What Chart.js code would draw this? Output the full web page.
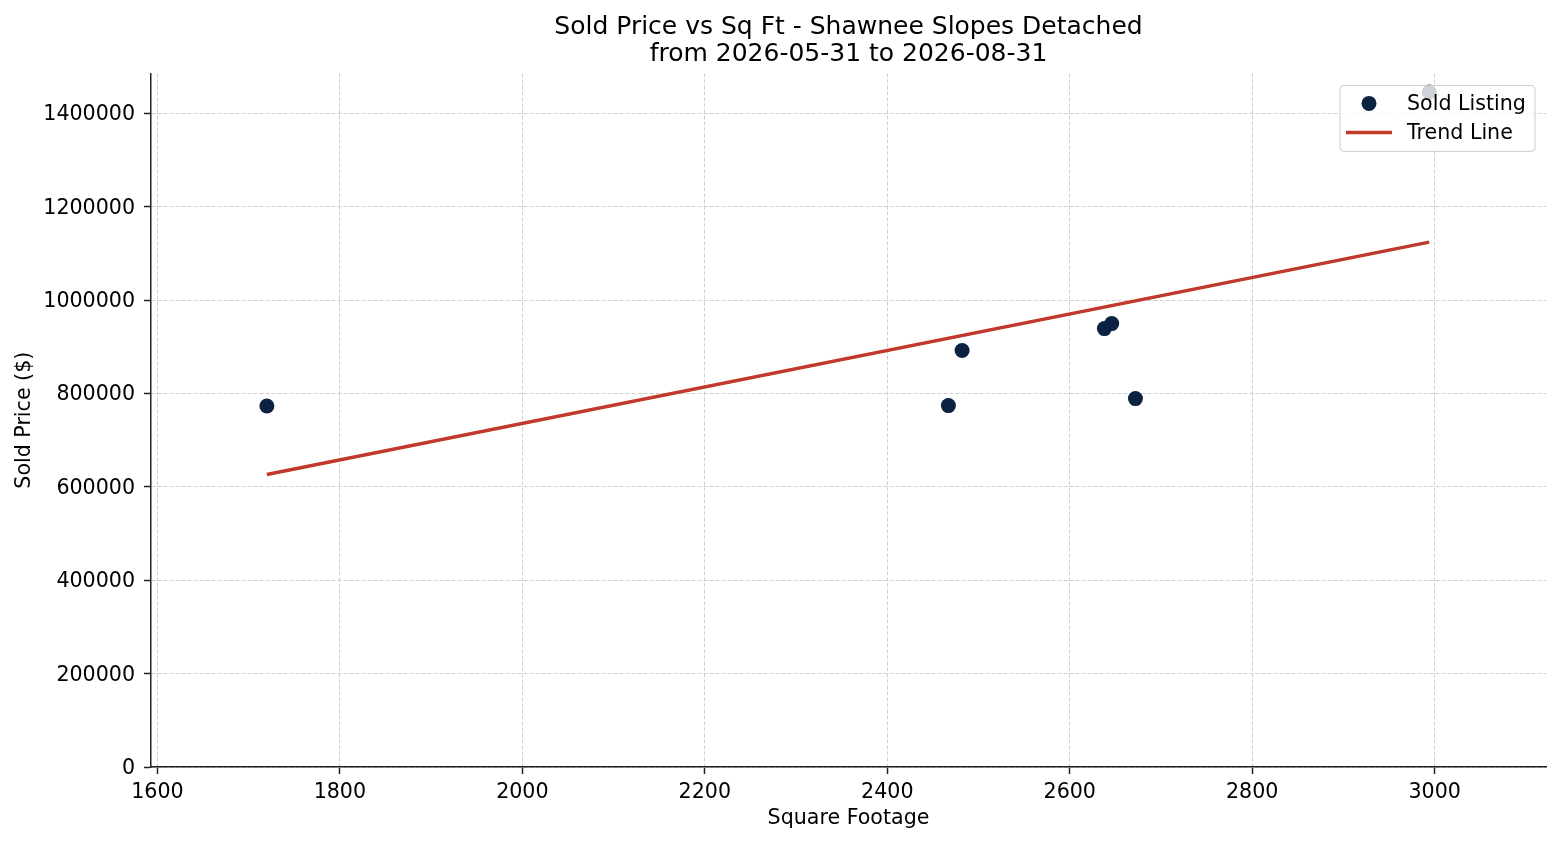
<!DOCTYPE html>
<html>
<head>
<meta charset="utf-8">
<script src="https://cdn.jsdelivr.net/npm/chart.js@4.4.1/dist/chart.umd.min.js"></script>
<style>
  html, body { margin: 0; padding: 0; background: #fff; }
  #wrap { width: 1560px; height: 845px; }
</style>
</head>
<body>
<div id="wrap"><canvas id="myChart"></canvas></div>
<script>
// data
const sqFt = [1720, 2467, 2482, 2638, 2646, 2672, 2994];
const soldPrice = [773500, 774300, 892200, 939300, 950000, 789300, 1446300];
const trendSqFt = [1720, 2994];
const trendPrice = [626500, 1124500];
const xTicks = [1600, 1800, 2000, 2200, 2400, 2600, 2800, 3000];
const yTicks = [0, 200000, 400000, 600000, 800000, 1000000, 1200000, 1400000];

const NAVY = "#0b2242";
const RED = "#c0392b";
const FS = 20.6;

Chart.defaults.font.family = "'DejaVu Sans', sans-serif";
Chart.defaults.color = "#000";

// matplotlib style legend box in the top right corner
const legendBox = {
    id: "legendBox",
    afterDraw(chart) {
        const ctx = chart.ctx;
        const area = chart.chartArea;
        const w = 195, h = 66;
        const x = area.right - 206, y = area.top + 12;
        ctx.save();
        ctx.beginPath();
        ctx.roundRect(x, y, w, h, 4);
        ctx.fillStyle = "rgba(255,255,255,0.8)";
        ctx.fill();
        ctx.strokeStyle = "#cccccc";
        ctx.lineWidth = 1;
        ctx.stroke();

        const ds = chart.data.datasets;
        ctx.font = FS + "px 'DejaVu Sans'";
        ctx.textBaseline = "middle";
        ctx.textAlign = "left";

        // row 1: marker
        ctx.beginPath();
        ctx.arc(x + 29, y + 18, 7.5, 0, Math.PI * 2);
        ctx.fillStyle = ds[0].backgroundColor;
        ctx.fill();
        ctx.fillStyle = "#000";
        ctx.fillText(ds[0].label, x + 67, y + 19);

        // row 2: line
        ctx.beginPath();
        ctx.moveTo(x + 6, y + 47);
        ctx.lineTo(x + 52, y + 47);
        ctx.strokeStyle = ds[1].borderColor;
        ctx.lineWidth = 3.5;
        ctx.stroke();
        ctx.fillText(ds[1].label, x + 67, y + 48);
        ctx.restore();
    }
};

const CHART = document.getElementById("myChart");
var myChart = new Chart(CHART, {
    type: "scatter",
    data: {
        datasets: [
            {
                label: "Sold Listing",
                data: sqFt.map((v, i) => ({ x: v, y: soldPrice[i] })),
                backgroundColor: NAVY,
                borderWidth: 0,
                pointRadius: 7.5,
                pointHoverRadius: 7.5
            },
            {
                type: "line",
                label: "Trend Line",
                data: trendSqFt.map((v, i) => ({ x: v, y: trendPrice[i] })),
                borderColor: RED,
                backgroundColor: RED,
                borderWidth: 3.5,
                pointRadius: 0,
                fill: false,
                showLine: true
            }
        ]
    },
    options: {
        responsive: true,
        maintainAspectRatio: false,
        animation: false,
        devicePixelRatio: 1,
        layout: { padding: { left: 0, right: 14, top: 0, bottom: 0 } },
        plugins: {
            legend: { display: false },
            tooltip: { enabled: false },
            title: {
                display: true,
                fullSize: false,
                text: ["Sold Price vs Sq Ft - Shawnee Slopes Detached", "from 2026-05-31 to 2026-08-31"],
                color: "#000",
                font: { size: 25, weight: "normal", lineHeight: 1.07 },
                padding: { top: 14.5, bottom: 5.4 }
            }
        },
        scales: {
            x: {
                type: "linear",
                min: 1593,
                max: 3122,
                afterBuildTicks: s => { s.ticks = xTicks.map(v => ({ value: v })); },
                afterFit: s => { s.height = 78; },
                ticks: {
                    font: { size: FS },
                    color: "#000",
                    padding: 6,
                    maxRotation: 0,
                    autoSkip: false,
                    callback: v => String(v)
                },
                grid: {
                    color: "#cfcfcf",
                    lineWidth: 1,
                    tickLength: 7,
                    tickColor: "#222",
                    tickWidth: 1.5
                },
                border: { color: "#222", width: 1.5, dash: [4, 2] },
                title: {
                    display: true,
                    text: "Square Footage",
                    color: "#000",
                    font: { size: FS },
                    padding: { top: 0, bottom: 14 }
                }
            },
            y: {
                min: 0,
                max: 1486000,
                afterBuildTicks: s => { s.ticks = yTicks.map(v => ({ value: v })); },
                afterFit: s => { s.width = 151; },
                ticks: {
                    font: { size: FS },
                    color: "#000",
                    padding: 9,
                    labelOffset: 1.5,
                    autoSkip: false,
                    callback: v => String(v)
                },
                grid: {
                    color: "#cfcfcf",
                    lineWidth: 1,
                    tickLength: 7,
                    tickColor: "#222",
                    tickWidth: 1.5
                },
                border: { color: "#222", width: 1.5, dash: [4, 2] },
                title: {
                    display: true,
                    text: "Sold Price ($)",
                    color: "#000",
                    font: { size: FS },
                    padding: { top: 12, bottom: 0 }
                }
            }
        }
    },
    plugins: [legendBox]
});
</script>
</body>
</html>
